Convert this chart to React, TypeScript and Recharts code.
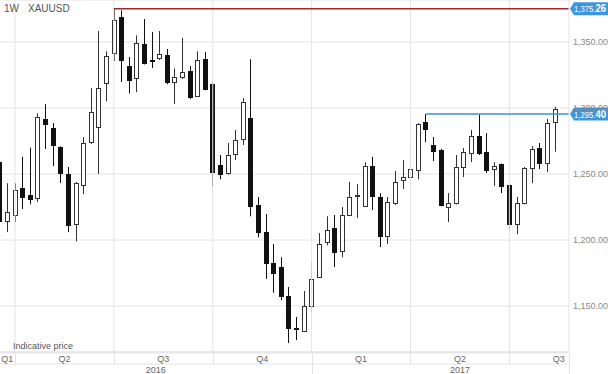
import { ComposedChart, Bar, XAxis, YAxis, CartesianGrid, ReferenceLine } from 'recharts'

// weekly XAUUSD candles, first week starts 2016-03-21
const firstWeek = Date.UTC(2016, 2, 21)

const opens = [
  1259, 1214.4, 1219, 1239.4, 1234, 1231.8, 1291.7, 1284.8, 1270.5, 1250,
  1212, 1241.7, 1274.2, 1285.6, 1319, 1341.7, 1369, 1331.8, 1322.7, 1348.5,
  1336, 1337.9, 1340, 1319.7, 1323.5, 1328, 1309, 1337, 1318.2, 1256.8,
  1250.8, 1265.2, 1276.5, 1292.4, 1226.5, 1206, 1182.6, 1179.5, 1157.6, 1133.5,
  1131, 1150, 1172, 1198.5, 1209, 1191.7, 1219, 1233, 1225.8, 1256,
  1232.6, 1203, 1228, 1245.5, 1247.7, 1253, 1289.4, 1272, 1268, 1225,
  1228, 1255.3, 1266, 1278.8, 1266.7, 1253.8, 1257.6, 1241.7, 1212, 1228,
  1254.5, 1269.7, 1258.3, 1289.4,
]
const highs = [
  1263, 1243, 1243, 1263, 1270, 1296, 1303, 1288.6, 1271, 1255.3,
  1244, 1278, 1315, 1358.3, 1343, 1375.26, 1374, 1338.6, 1355, 1367.4,
  1357.6, 1358.3, 1344.7, 1330, 1353, 1331.8, 1343, 1342.4, 1319.7, 1264.4,
  1273.5, 1283.3, 1307.6, 1337, 1232.6, 1219.7, 1197, 1187, 1164.4, 1141.7,
  1161.4, 1183.3, 1205.3, 1218, 1219, 1225, 1244, 1242.4, 1259, 1263,
  1235.6, 1232.6, 1252.3, 1260.6, 1270.5, 1288.6, 1295.4, 1278, 1269, 1235.6,
  1264.4, 1269.7, 1283.3, 1295, 1281, 1259, 1258, 1242.5, 1232.6, 1255.3,
  1271.2, 1273.5, 1291.7, 1301,
]
const lows = [
  1208, 1206, 1213.6, 1223.5, 1227, 1228.8, 1269, 1256, 1243.2, 1206,
  1199, 1234.8, 1272.7, 1250, 1305, 1335.6, 1319.7, 1311, 1312, 1333,
  1330.3, 1336.4, 1318, 1303, 1322, 1306.8, 1308.3, 1313.5, 1240.5, 1246,
  1249.5, 1260.6, 1272, 1218, 1202, 1170.5, 1160, 1154.5, 1122, 1124.2,
  1130.3, 1145.5, 1171.2, 1196, 1179.5, 1187, 1218.5, 1216.7, 1225, 1222.7,
  1194.7, 1197, 1226.5, 1238.6, 1243, 1246, 1274, 1259.8, 1225.5, 1213.6,
  1227, 1247.7, 1259, 1264.4, 1250.8, 1241, 1235.6, 1206.8, 1204.5, 1227,
  1243, 1253.8, 1251.5, 1266.9,
]
const closes = [
  1214, 1221.2, 1238, 1232.6, 1231, 1293.2, 1287.9, 1272, 1250.8, 1211.4,
  1243.2, 1273.5, 1297, 1315.2, 1339.4, 1366.7, 1336.4, 1321.2, 1349.2, 1334,
  1335, 1340.9, 1319.7, 1323.5, 1327.3, 1308.3, 1336.4, 1314.4, 1251.5, 1250,
  1264.4, 1275.8, 1304.5, 1225.8, 1206, 1182.6, 1175, 1157.6, 1133.3, 1133,
  1150, 1170.5, 1197, 1207.6, 1191, 1219, 1232.6, 1234, 1256, 1233.3,
  1203, 1228.8, 1244, 1247.7, 1253.8, 1287.9, 1284, 1267.4, 1226.5, 1228,
  1255.3, 1266.7, 1278.8, 1266, 1253, 1256, 1241, 1212, 1228, 1254.5,
  1269, 1258.3, 1288.6, 1299,
]

const quarterStarts = [2, 15, 28, 41, 54, 67]
const quarterNames = ['Q1', 'Q2', 'Q3', 'Q4', 'Q1', 'Q2', 'Q3']
const quarterCenters = [1, 8.5, 21.5, 34.5, 47.5, 60.5, 73.5]
const yearStarts = [41]
const yearNames = ['2016', '2017']
const yearCenters = [20.5, 60.5]
const priceTicks = [1150, 1200, 1250, 1300, 1350]

const highLine = { price: 1375.26, from: 15 }
const lastLine = { price: 1295.4, from: 56 }

const X_DOMAIN = [0.03, 74.84]
const Y_DOMAIN = [1115.2, 1381.8]
const X_END = X_DOMAIN[1]

const data = opens.map((o, i) => ({
  i,
  week: new Date(firstWeek + i * 7 * 86400000).toISOString().slice(0, 10),
  o,
  h: highs[i],
  l: lows[i],
  c: closes[i],
  range: [lows[i], highs[i]],
}))

const GRID = '#e3e3e3'

const Candle = (props: any) => {
  const { x, y, width, height, payload } = props
  const { o, h, l, c } = payload
  const span = h - l || 1
  const yOf = (p: number) => y + ((h - p) / span) * height
  const xw = Math.round(x + width / 2) + 0.5
  const up = c >= o
  const top = yOf(Math.max(o, c))
  const bot = yOf(Math.min(o, c))
  const color = up ? '#333' : '#111'
  return (
    <g>
      <line x1={xw} x2={xw} y1={y} y2={y + height} stroke={color} strokeWidth={1} />
      <rect
        x={xw - 2}
        y={Math.round(top) + 0.5}
        width={4}
        height={Math.max(1, Math.round(bot - top))}
        fill={up ? '#fff' : '#111'}
        stroke={color}
        strokeWidth={1}
      />
    </g>
  )
}

const QuarterTick = (props: any) => {
  const { x, y, payload } = props
  const v = payload.value
  const k = quarterCenters.indexOf(v)
  if (k < 0) {
    const xl = Math.round(x) + 0.5
    return <line x1={xl} x2={xl} y1={y} y2={y + 11} stroke={GRID} />
  }
  return (
    <text x={x} y={y + 9} textAnchor="middle" fontSize={9} fill="#666">
      {quarterNames[k]}
    </text>
  )
}

const YearTick = (props: any) => {
  const { x, y, payload } = props
  const v = payload.value
  const k = yearCenters.indexOf(v)
  if (k < 0) {
    const xl = Math.round(x) + 0.5
    return <line x1={xl} x2={xl} y1={y} y2={y + 11} stroke={GRID} />
  }
  return (
    <text x={x} y={y + 9} textAnchor="middle" fontSize={9} fill="#666">
      {yearNames[k]}
    </text>
  )
}

const PriceTag = (props: any) => {
  const { viewBox, price } = props
  if (!viewBox) return null
  const xr = viewBox.x + viewBox.width
  const y = viewBox.y
  const [whole, dec] = price.toLocaleString('en-US', { minimumFractionDigits: 2 }).split('.')
  return (
    <g>
      <path
        d={`M${xr + 1},${y} L${xr + 5},${y - 6.5} L${xr + 39},${y - 6.5} L${xr + 39},${y + 6.5} L${xr + 5},${y + 6.5} Z`}
        fill="#3d95dc"
      />
      <text x={xr + 5} y={y + 3.5} fill="#fff" fontSize={8.5} textLength={32} lengthAdjust="spacingAndGlyphs">
        {whole + '.'}
        <tspan fontSize={10.5} fontWeight="bold">{dec}</tspan>
      </text>
    </g>
  )
}

export default function App() {
  return (
    <div
      style={{
        position: 'absolute',
        left: 0,
        top: 0,
        width: 608,
        height: 374,
        background: '#fff',
        fontFamily: 'Arial, "Liberation Sans", sans-serif',
      }}
    >
      <ComposedChart width={608} height={374} data={data} margin={{ top: 0, right: 0, bottom: 0, left: 0 }}>
        <CartesianGrid vertical={false} stroke={GRID} />
        <XAxis
          xAxisId="q"
          type="number"
          dataKey="i"
          domain={X_DOMAIN}
          allowDataOverflow
          ticks={[...quarterStarts, X_END, ...quarterCenters]}
          interval={0}
          tick={<QuarterTick />}
          tickLine={false}
          tickSize={0}
          tickMargin={0}
          height={11}
          axisLine={{ stroke: GRID }}
        />
        <XAxis
          xAxisId="y"
          type="number"
          dataKey="i"
          domain={X_DOMAIN}
          allowDataOverflow
          ticks={[...yearStarts, X_END, ...yearCenters]}
          interval={0}
          tick={<YearTick />}
          tickLine={false}
          tickSize={0}
          tickMargin={0}
          height={10}
          axisLine={{ stroke: GRID }}
        />
        <XAxis
          xAxisId="b"
          type="number"
          dataKey="i"
          domain={X_DOMAIN}
          allowDataOverflow
          tick={false}
          tickLine={false}
          height={1}
          axisLine={{ stroke: GRID }}
        />
        <YAxis
          orientation="right"
          domain={Y_DOMAIN}
          allowDataOverflow
          ticks={priceTicks}
          interval={0}
          width={39}
          tickSize={0}
          tickMargin={4}
          tickLine={false}
          axisLine={{ stroke: GRID }}
          tick={{ fontSize: 9, fill: '#888' }}
          tickFormatter={(v: number) => v.toLocaleString('en-US', { minimumFractionDigits: 2 })}
        />
        {quarterStarts.map((q) => (
          <ReferenceLine key={q} xAxisId="q" x={q} stroke={GRID} />
        ))}
        <Bar xAxisId="q" dataKey="range" barSize={5} shape={<Candle />} isAnimationActive={false} />
        <ReferenceLine
          xAxisId="q"
          segment={[
            { x: highLine.from, y: highLine.price },
            { x: X_END, y: highLine.price },
          ]}
          stroke="#a3262b"
          strokeWidth={1.5}
          label={<PriceTag price={highLine.price} />}
        />
        <ReferenceLine
          xAxisId="q"
          segment={[
            { x: lastLine.from, y: lastLine.price },
            { x: X_END, y: lastLine.price },
          ]}
          stroke="#3d8fd9"
          strokeWidth={1.5}
          label={<PriceTag price={lastLine.price} />}
        />
      </ComposedChart>
      <div style={{ position: 'absolute', left: 4, top: 3, fontSize: 10, color: '#555' }}>1W</div>
      <div style={{ position: 'absolute', left: 28, top: 3, fontSize: 10, color: '#555' }}>XAUUSD</div>
      <div style={{ position: 'absolute', left: 13, top: 341, fontSize: 9, color: '#555' }}>Indicative price</div>
    </div>
  )
}
